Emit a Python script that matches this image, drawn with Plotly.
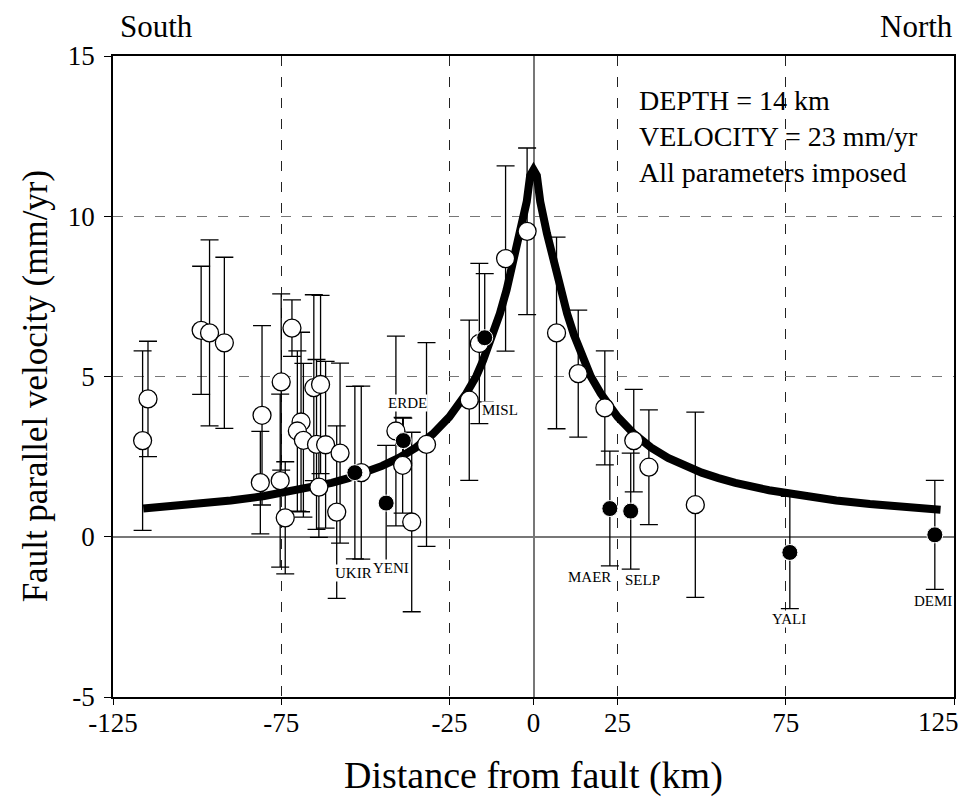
import plotly.graph_objects as go

# ---------------- data ----------------
# open circles: distance (km), velocity (mm/yr), 1-sigma error
open_x = [-116.2, -114.6, -98.8, -96.3, -91.9, -80.7, -81.2, -75.0, -75.3, -73.8,
          -71.8, -69.1, -70.2, -68.4, -65.3, -63.3, -64.5, -61.8, -63.8, -57.5,
          -58.5, -51.2, -40.9, -38.9, -36.2, -31.8, -19.1, -16.1, -8.3, -1.9,
          6.85, 13.3, 21.2, 29.8, 34.3, 48.1]
open_v = [3.0, 4.30, 6.44, 6.36, 6.05, 3.79, 1.69, 4.83, 1.75, 0.59,
          6.51, 3.58, 3.30, 3.01, 4.65, 4.75, 2.88, 2.87, 1.55, 2.61,
          0.77, 2.0, 3.3, 2.23, 0.46, 2.88, 4.26, 6.03, 8.68, 9.53,
          6.36, 5.09, 4.02, 3.0, 2.17, 1.0]
open_err = [2.8, 1.8, 2.0, 2.9, 2.67, 2.8, 1.6, 2.75, 2.7, 1.75,
            0.88, 2.8, 2.5, 2.4, 2.9, 2.78, 2.65, 2.6, 1.57, 2.81,
            2.69, 2.7, 2.96, 1.49, 2.8, 3.18, 2.5, 2.5, 2.89, 2.6,
            2.99, 1.98, 1.78, 1.6, 1.79, 2.89]

# filled circles (named stations)
site_names = ["UKIR", "YENI", "ERDE", "MISL", "MAER", "SELP", "YALI", "DEMI"]
site_x = [-53.1, -43.8, -38.7, -14.5, 22.7, 28.9, 76.2, 119.3]
site_v = [2.0, 1.05, 3.0, 6.21, 0.88, 0.80, -0.49, 0.06]
site_err = [2.69, 1.8, 0.7, 2.0, 1.79, 1.81, 1.75, 1.7]

# model curve (depth 14 km, velocity 23 mm/yr)
model_x = [-116, -108, -100, -90, -80, -70, -60, -55, -50, -45, -40, -35, -30, -25,
           -20, -17, -15, -12, -10, -8, -6, -4, -2, -1, 0,
           1, 2, 4, 6, 8, 10, 12, 15, 17, 20, 25, 30, 35, 40, 45, 50, 55, 60,
           70, 80, 90, 100, 110, 121]
model_v = [0.88, 0.95, 1.02, 1.13, 1.27, 1.45, 1.68, 1.83, 2.00, 2.21, 2.46, 2.78,
           3.20, 3.74, 4.47, 5.01, 5.50, 6.31, 6.96, 7.70, 8.54, 9.46, 10.46, 11.27,
           11.45,
           11.27, 10.46, 9.46, 8.54, 7.70, 6.96, 6.31, 5.50, 5.01, 4.47, 3.74, 3.20,
           2.78, 2.46, 2.21, 2.00, 1.83, 1.68, 1.45, 1.27, 1.13, 1.02, 0.93, 0.84]

x_ticks = [-125, -75, -25, 0, 25, 75, 125]
x_tick_text = ["-125", "-75", "-25", "0", "25", "75", "125"]
y_ticks = [-5, 0, 5, 10, 15]

info_lines = ["DEPTH = 14 km", "VELOCITY = 23 mm/yr", "All parameters imposed"]

# text placement (data coordinates)
label_pos = {"UKIR": (-53.5, -1.14), "YENI": (-42.4, -0.99), "ERDE": (-37.6, 4.18),
             "MISL": (-10.0, 3.94), "MAER": (16.6, -1.26), "SELP": (32.3, -1.34),
             "YALI": (76.0, -2.58), "DEMI": (118.8, -2.0)}
info_x = 30.7
info_y = [13.62, 12.50, 11.35]

FONT = "Liberation Serif, Times New Roman, serif"
BLACK = "black"

fig = go.Figure()

err_style = dict(type="data", color=BLACK, thickness=1.3, width=9)

# error bars first (beneath curve)
fig.add_trace(go.Scatter(x=open_x, y=open_v, mode="markers",
                         marker=dict(size=1, opacity=0),
                         error_y=dict(array=open_err, **err_style),
                         showlegend=False, hoverinfo="skip"))
fig.add_trace(go.Scatter(x=site_x, y=site_v, mode="markers",
                         marker=dict(size=1, opacity=0),
                         error_y=dict(array=site_err, **err_style),
                         showlegend=False, hoverinfo="skip"))

# model curve
fig.add_trace(go.Scatter(x=model_x, y=model_v, mode="lines",
                         line=dict(color=BLACK, width=8),
                         showlegend=False))

# markers
fig.add_trace(go.Scatter(x=open_x, y=open_v, mode="markers",
                         marker=dict(size=18, color="white",
                                     line=dict(color=BLACK, width=1.3)),
                         showlegend=False))
fig.add_trace(go.Scatter(x=site_x, y=site_v, mode="markers",
                         marker=dict(size=16, color=BLACK,
                                     line=dict(color="white", width=1)),
                         showlegend=False))

annotations = []
for name in site_names:
    lx, ly = label_pos[name]
    annotations.append(dict(x=lx, y=ly, xref="x", yref="y", text=name,
                            showarrow=False, bgcolor="white", borderpad=0,
                            font=dict(family=FONT, size=15, color=BLACK)))

for line, yy in zip(info_lines, info_y):
    annotations.append(dict(x=info_x, y=yy, xref="x", yref="y", text=line,
                            showarrow=False, xanchor="left", yanchor="middle",
                            font=dict(family=FONT, size=28, color=BLACK)))

# texts outside the plotting area (paper coordinates)
annotations.append(dict(x=0.006, y=1.046, xref="paper", yref="paper", text="South",
                        showarrow=False, xanchor="left", yanchor="middle",
                        font=dict(family=FONT, size=31, color=BLACK)))
annotations.append(dict(x=1.0012, y=1.046, xref="paper", yref="paper", text="North",
                        showarrow=False, xanchor="right", yanchor="middle",
                        font=dict(family=FONT, size=31, color=BLACK)))
annotations.append(dict(x=0.5, y=-0.122, xref="paper", yref="paper",
                        text="Distance from fault (km)", showarrow=False,
                        xanchor="center", yanchor="middle",
                        font=dict(family=FONT, size=38, color=BLACK)))
annotations.append(dict(x=-0.0927, y=0.4847, xref="paper", yref="paper",
                        text="Fault parallel velocity (mm/yr)", showarrow=False,
                        textangle=-90, xanchor="center", yanchor="middle",
                        font=dict(family=FONT, size=35, color=BLACK)))
# last x tick label is set inward so it stays inside the page
annotations.append(dict(x=0.982, y=-0.0395, xref="paper", yref="paper",
                        text=x_tick_text[-1], showarrow=False,
                        xanchor="center", yanchor="middle",
                        font=dict(family=FONT, size=27, color=BLACK)))

# page body adds an 8px offset, compensated here
fig.update_layout(
    width=968, height=792,
    margin=dict(l=105, r=22, t=48, b=103),
    paper_bgcolor="white", plot_bgcolor="white",
    font=dict(family=FONT, color=BLACK),
    annotations=annotations,
    showlegend=False,
)

fig.update_xaxes(
    range=[-125, 125], tickvals=x_ticks,
    ticktext=x_tick_text[:-1] + [""],
    tickfont=dict(family=FONT, size=27), ticks="outside", ticklen=6, tickwidth=1.3,
    tickcolor=BLACK, ticklabelstandoff=-5,
    showline=True, linecolor=BLACK, linewidth=1.5, mirror=True,
    showgrid=True, gridcolor="#222", gridwidth=1, griddash="10px,11px",
    zeroline=True, zerolinecolor="#777", zerolinewidth=1.5,
    automargin=False,
)
fig.update_yaxes(
    range=[-5, 15], tickvals=y_ticks, ticktext=[str(t) for t in y_ticks],
    tickfont=dict(family=FONT, size=27), ticks="outside", ticklen=7, tickwidth=1.3,
    tickcolor=BLACK, ticklabelstandoff=4,
    showline=True, linecolor=BLACK, linewidth=1.5, mirror=True,
    showgrid=True, gridcolor="#777", gridwidth=1, griddash="10px,11px",
    zeroline=True, zerolinecolor="#777", zerolinewidth=1.5,
    automargin=False,
)

fig.write_html("out.html")
